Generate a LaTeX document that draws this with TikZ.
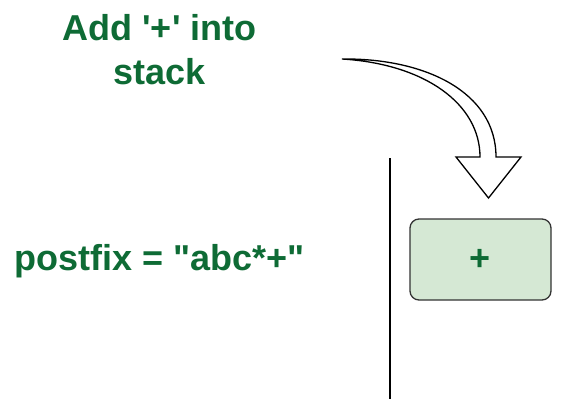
\documentclass[tikz,border=0pt]{standalone}
\usepackage{fontspec}
\setmainfont{Liberation Sans}[Ligatures=TeXOff]
\definecolor{gtext}{HTML}{0E6B35}
\definecolor{gfill}{HTML}{D5E8D4}
\definecolor{gline}{HTML}{333333}
\begin{document}
\begin{tikzpicture}[x=1pt,y=-1pt,
  lbl/.style={text=gtext,font=\fontsize{36}{44}\selectfont\bfseries,inner sep=0pt,align=center},
  stackbox/.style={draw=gline,fill=gfill,rounded corners=9pt,line width=1.3pt,minimum width=141pt,minimum height=81pt,inner sep=0pt,text=gtext,font=\fontsize{36}{44}\selectfont\bfseries},
  flexarrow/.style={draw=black,fill=white,line width=1.3pt,line join=miter}
]
\useasboundingbox (0,0) rectangle (564,399);
\node[lbl] (title) at (159.5,50) {Add '+' into\\stack};
\node[lbl,anchor=base west] (postfix) at (14,270) {postfix = "abc*+"};
\node[stackbox] (plus) at (480.5,259.5) {+};
\coordinate (wallTop) at (390,158);
\coordinate (wallBot) at (390,399);
\draw[line width=1.3pt] (wallTop) -- (wallBot);
\coordinate (aStart) at (342,59);
\coordinate (aOut) at (496,157);
\coordinate (aIn) at (480,157);
\coordinate (aTip) at (488.5,198);
\draw[flexarrow] (aStart) .. controls (425,58) and (496,92) .. (aOut)
  -- (521,157) -- (aTip) -- (456,157) -- (aIn)
  .. controls (480,104) and (425,64) .. (aStart) -- cycle;
\end{tikzpicture}
\end{document}
